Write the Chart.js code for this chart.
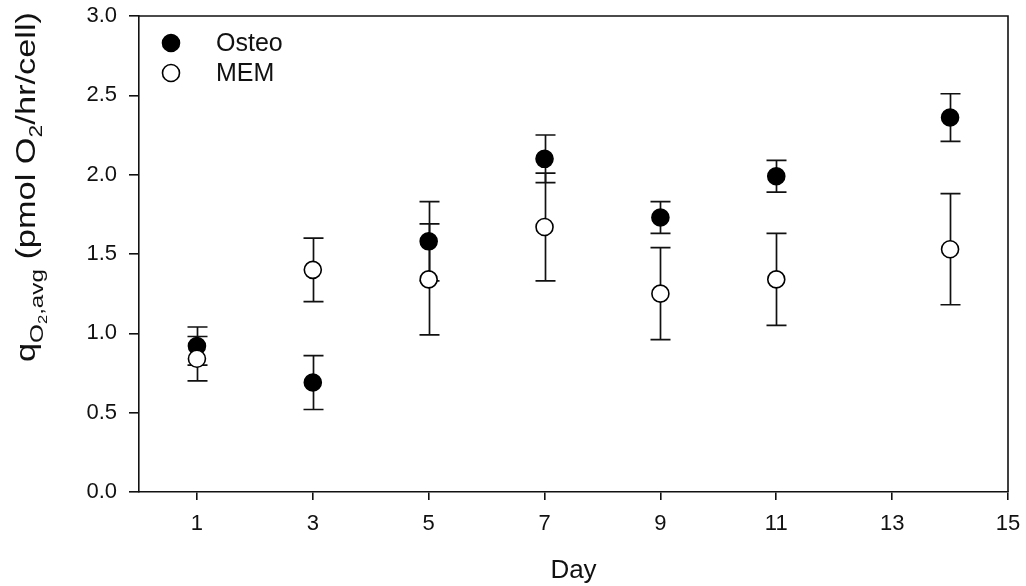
<!DOCTYPE html>
<html>
<head>
<meta charset="utf-8">
<script src="https://cdn.jsdelivr.net/npm/chart.js@4.4.0/dist/chart.umd.min.js"></script>
<style>
  html, body { margin: 0; padding: 0; background: #fff; }
</style>
</head>
<body>
<canvas id="o2Chart" width="1026" height="586"></canvas>
<script>
// oxygen consumption per cell, mean +/- error, by culture day
const days = [1, 3, 5, 7, 9, 11, 14];
const osteoMean = [0.92, 0.69, 1.58, 2.10, 1.73, 1.99, 2.36];
const osteoErr = [0.12, 0.17, 0.25, 0.15, 0.10, 0.10, 0.15];
const memMean = [0.84, 1.40, 1.34, 1.67, 1.25, 1.34, 1.53];
const memErr = [0.14, 0.20, 0.35, 0.34, 0.29, 0.29, 0.35];
const dayTicks = [1, 3, 5, 7, 9, 11, 13, 15];
const seriesNames = ['Osteo', 'MEM'];

const FONT = '"Liberation Sans", Arial, sans-serif';
const INK = '#111';

function toPoints(xs, ys, errs) {
    return xs.map((x, i) => ({ x: x, y: ys[i], err: errs[i] }));
}

// whiskers go under the markers
const errorBars = {
    id: 'errorBars',
    beforeDatasetsDraw(chart) {
        const { ctx, scales: { x, y } } = chart;
        ctx.save();
        ctx.strokeStyle = INK;
        ctx.lineWidth = 1.7;
        chart.data.datasets.forEach(ds => {
            ds.data.forEach(p => {
                const px = Math.round(x.getPixelForValue(p.x)) + 0.5;
                const top = y.getPixelForValue(p.y + p.err);
                const bot = y.getPixelForValue(p.y - p.err);
                ctx.beginPath();
                ctx.moveTo(px, top);
                ctx.lineTo(px, bot);
                ctx.moveTo(px - 10, top);
                ctx.lineTo(px + 10, top);
                ctx.moveTo(px - 10, bot);
                ctx.lineTo(px + 10, bot);
                ctx.stroke();
            });
        });
        ctx.restore();
    }
};

// closes the box on top and right, plus legend and y title
const extras = {
    id: 'extras',
    afterDraw(chart) {
        const { ctx, chartArea: a } = chart;
        ctx.save();
        ctx.strokeStyle = INK;
        ctx.lineWidth = 1.6;
        ctx.beginPath();
        ctx.moveTo(a.left, a.top);
        ctx.lineTo(a.right, a.top);
        ctx.lineTo(a.right, a.bottom);
        ctx.stroke();

        // legend
        ctx.font = '25px ' + FONT;
        ctx.textBaseline = 'middle';
        chart.data.datasets.forEach((ds, i) => {
            const cy = a.top + 27 + i * 30;
            ctx.beginPath();
            ctx.arc(a.left + 32, cy, 8.5, 0, Math.PI * 2);
            ctx.fillStyle = ds.backgroundColor;
            ctx.fill();
            ctx.lineWidth = 1.6;
            ctx.strokeStyle = ds.borderColor;
            ctx.stroke();
            ctx.fillStyle = INK;
            ctx.fillText(seriesNames[i], a.left + 77, cy + 1);
        });

        // y title with subscripts, stretched along its length
        const parts = [
            ['q', 27, 0],
            ['O', 19, 8],
            ['2', 13, 12],
            [',avg', 19, 8],
            [' (pmol O', 27, 0],
            ['2', 18, 7],
            ['/hr/cell)', 27, 0]
        ];
        let total = 0;
        parts.forEach(p => { ctx.font = p[1] + 'px ' + FONT; total += ctx.measureText(p[0]).width; });
        ctx.translate(35, 187);
        ctx.rotate(-Math.PI / 2);
        ctx.scale(350 / total, 1);
        ctx.textBaseline = 'alphabetic';
        ctx.fillStyle = INK;
        let cx = -total / 2;
        parts.forEach(p => {
            ctx.font = p[1] + 'px ' + FONT;
            ctx.fillText(p[0], cx, p[2]);
            cx += ctx.measureText(p[0]).width;
        });
        ctx.restore();
    }
};

new Chart(document.getElementById('o2Chart'), {
    type: 'scatter',
    data: {
        datasets: [{
            label: seriesNames[0],
            data: toPoints(days, osteoMean, osteoErr),
            backgroundColor: '#000',
            borderColor: '#000',
            borderWidth: 1.6,
            pointRadius: 8.5,
            pointHoverRadius: 8.5,
            order: 2
        }, {
            label: seriesNames[1],
            data: toPoints(days, memMean, memErr),
            backgroundColor: '#fff',
            borderColor: '#000',
            borderWidth: 1.6,
            pointRadius: 8.5,
            pointHoverRadius: 8.5,
            order: 1
        }]
    },
    options: {
        responsive: false,
        animation: false,
        layout: { padding: { top: 16, right: 18, left: 0, bottom: 0 } },
        scales: {
            x: {
                type: 'linear',
                min: 0,
                max: 15,
                afterBuildTicks: s => { s.ticks = dayTicks.map(v => ({ value: v })); },
                afterFit: s => { s.height = 94; s.paddingLeft = 0; s.paddingRight = 0; },
                grid: { drawOnChartArea: false, tickLength: 8, color: INK, lineWidth: 1.6 },
                border: { color: INK, width: 1.6 },
                ticks: { color: INK, font: { family: FONT, size: 22 }, padding: 11 },
                title: {
                    display: true,
                    text: 'Day',
                    color: INK,
                    font: { family: FONT, size: 26 },
                    padding: { top: 0, bottom: 0 }
                }
            },
            y: {
                min: 0,
                max: 3,
                afterFit: s => { s.width = 139; s.paddingTop = 0; s.paddingBottom = 0; },
                grid: { drawOnChartArea: false, tickLength: 10, color: INK, lineWidth: 1.6 },
                border: { color: INK, width: 1.6 },
                ticks: {
                    stepSize: 0.5,
                    color: INK,
                    font: { family: FONT, size: 22 },
                    padding: 12,
                    callback: v => v.toFixed(1)
                }
            }
        },
        plugins: {
            legend: { display: false },
            tooltip: { enabled: false }
        }
    },
    plugins: [errorBars, extras]
});
</script>
</body>
</html>
